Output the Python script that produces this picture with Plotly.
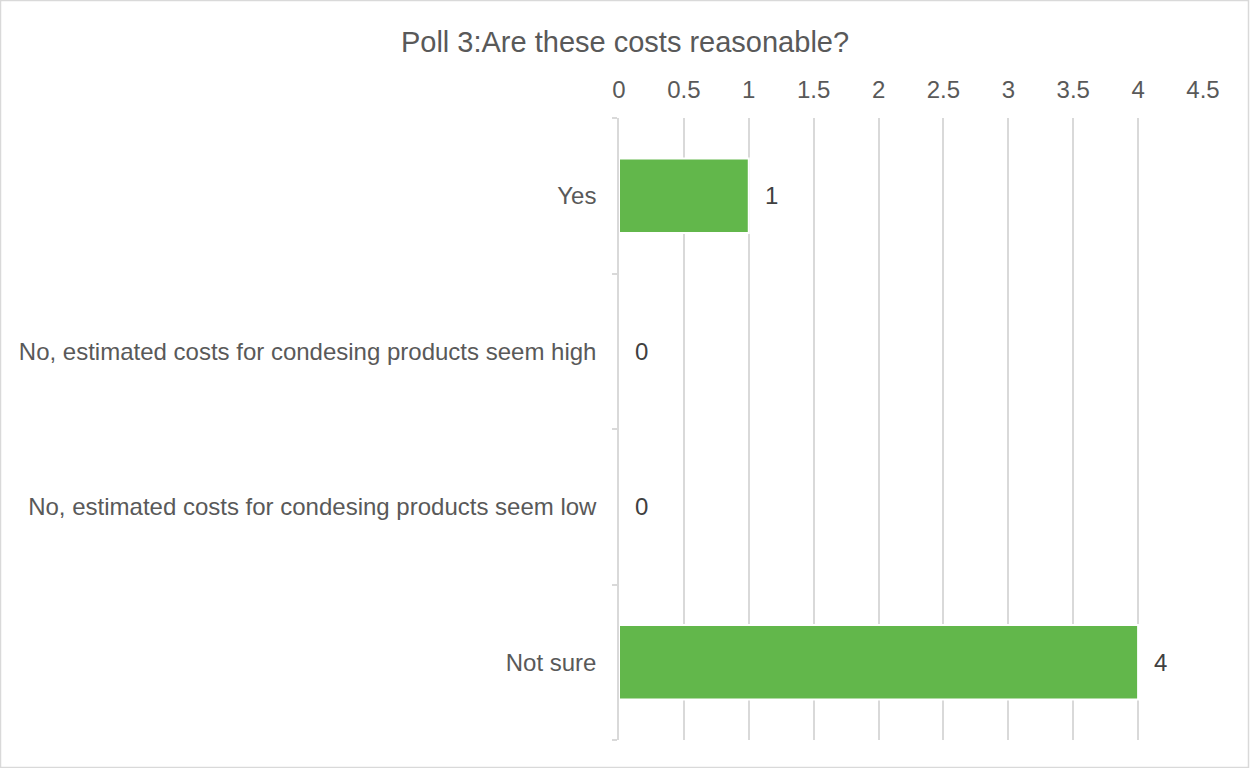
import plotly.graph_objects as go

categories = ["Yes",
              "No, estimated costs for condesing products seem high",
              "No, estimated costs for condesing products seem low",
              "Not sure"]
values = [1, 0, 0, 4]
x_ticks = [0, 0.5, 1, 1.5, 2, 2.5, 3, 3.5, 4, 4.5]
x_tick_labels = ["0", "0.5", "1", "1.5", "2", "2.5", "3", "3.5", "4", "4.5"]
title_text = "Poll 3:Are these costs reasonable?"

W, H = 1250, 768
L, R, T, B = 619, 47, 118, 28
pw, ph = W - L - R, H - T - B

font_family = "Liberation Sans, Arial, sans-serif"
fig = go.Figure()
fig.add_trace(go.Bar(
    x=values, y=categories, orientation="h",
    marker=dict(color="#62b74b", line=dict(color="white", width=2)),
    width=0.48, hoverinfo="skip",
))
for c, v in zip(categories, values):
    fig.add_annotation(x=v, y=c, text=str(v), showarrow=False,
                       xanchor="left", xshift=14,
                       font=dict(size=24, color="#404040", family=font_family))

fig.add_shape(type="rect", xref="paper", yref="paper",
              x0=(0.5 - L) / pw, x1=(W - 1.5 - L) / pw,
              y0=-(B - 0.5) / ph, y1=1 + (T - 0.5) / ph,
              line=dict(color="#d9d9d9", width=1.5), layer="below")

fig.update_layout(
    width=W, height=H,
    margin=dict(l=L, r=R, t=T, b=B, pad=0),
    paper_bgcolor="white", plot_bgcolor="white",
    showlegend=False,
    title=dict(text=title_text, x=0.5, xref="container", xanchor="center",
               y=1 - 42 / H, yanchor="middle",
               font=dict(size=29, color="#595959", family=font_family)),
    font=dict(family=font_family, color="#595959"),
    xaxis=dict(side="top", range=[0, 4.5], tickvals=x_ticks, ticktext=x_tick_labels,
               showgrid=True, gridcolor="#d9d9d9", gridwidth=1.5,
               zeroline=False, showline=False, ticks="",
               ticklabelstandoff=14,
               tickfont=dict(size=24, color="#595959")),
    yaxis=dict(categoryorder="array", categoryarray=categories[::-1],
               tickson="boundaries", ticks="outside", ticklen=5,
               tickcolor="#d9d9d9", tickwidth=1.5,
               showline=True, linecolor="#d9d9d9", linewidth=1.5,
               showgrid=False, zeroline=False,
               ticklabelstandoff=16,
               tickfont=dict(size=24, color="#595959")),
)

fig.write_html("out.html")
